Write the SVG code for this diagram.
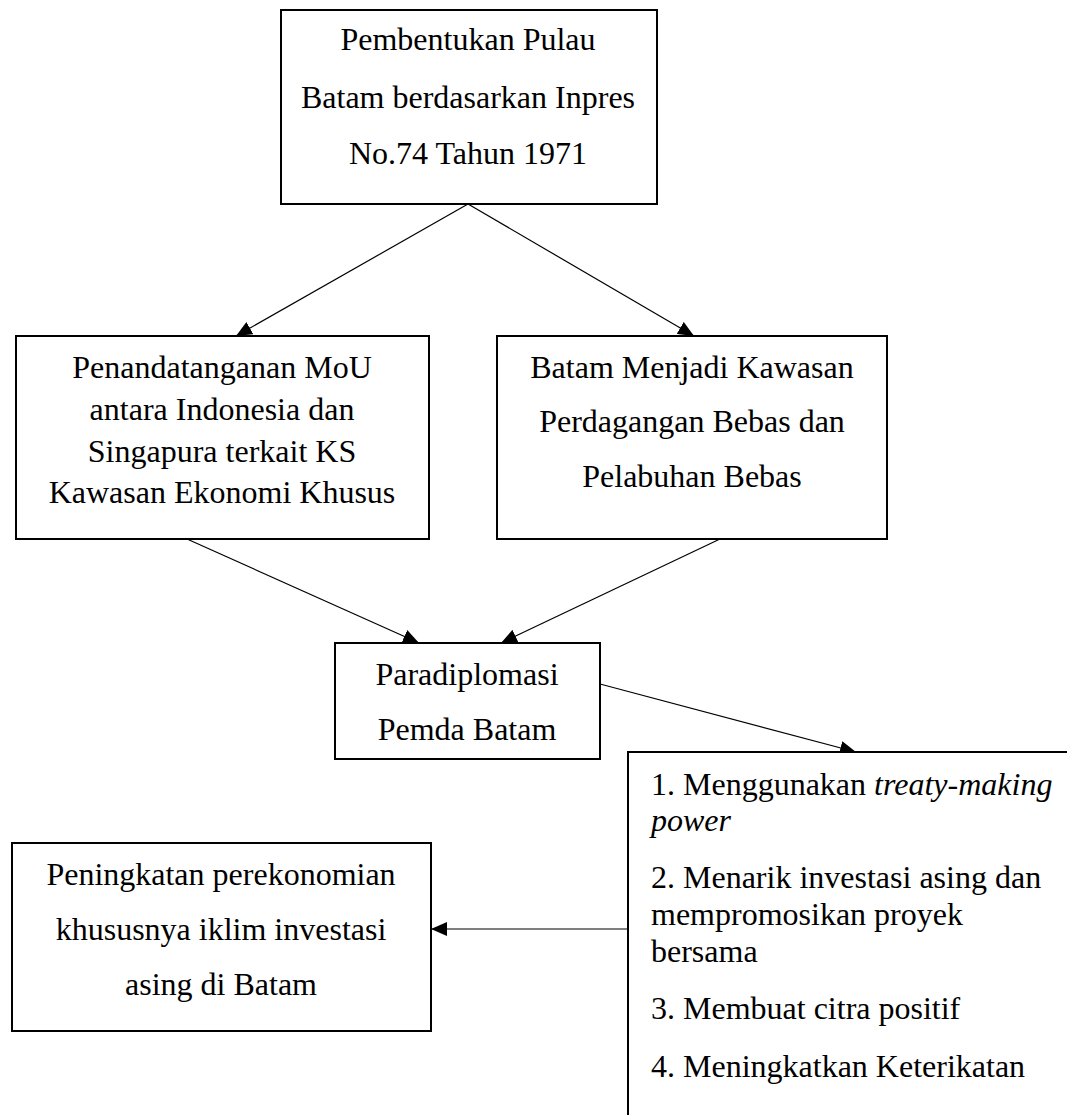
<svg xmlns="http://www.w3.org/2000/svg" width="1067" height="1115" viewBox="0 0 1067 1115">
<style>
.box{fill:#fff;stroke:#000;stroke-width:2}
.t{font-family:"Liberation Serif","Times New Roman",serif;font-size:32px;fill:#000}
.c{text-anchor:middle}
.con{stroke:#000;stroke-width:1.2;fill:none;marker-end:url(#ah)}
</style>
<defs>
<marker id="ah" viewBox="0 0 16 14" refX="16" refY="7" markerWidth="16" markerHeight="14" markerUnits="userSpaceOnUse" orient="auto">
<path d="M0,0 L16,7 L0,14 Z" fill="#000"/>
</marker>
</defs>
<rect width="1067" height="1115" fill="#fff"/>
<g id="connectors">
<line class="con" x1="468" y1="204" x2="236" y2="336"/>
<line class="con" x1="468" y1="204" x2="694" y2="336"/>
<line class="con" x1="187" y1="539" x2="419" y2="643"/>
<line class="con" x1="720" y1="539" x2="501" y2="643"/>
<line class="con" x1="600" y1="684" x2="856" y2="752"/>
<line class="con" x1="628" y1="929" x2="431" y2="929"/>
</g>
<g id="n1">
<rect class="box" x="281" y="10" width="376" height="194"/>
<text class="t c" x="468" y="50">Pembentukan Pulau</text>
<text class="t c" x="468" y="108">Batam berdasarkan Inpres</text>
<text class="t c" x="468" y="164">No.74 Tahun 1971</text>
</g>
<g id="n2">
<rect class="box" x="16" y="336" width="413" height="203"/>
<text class="t c" x="222" y="378">Penandatanganan MoU</text>
<text class="t c" x="222" y="420">antara Indonesia dan</text>
<text class="t c" x="222" y="462">Singapura terkait KS</text>
<text class="t c" x="222" y="503">Kawasan Ekonomi Khusus</text>
</g>
<g id="n3">
<rect class="box" x="497" y="336" width="390" height="203"/>
<text class="t c" x="692" y="378">Batam Menjadi Kawasan</text>
<text class="t c" x="692" y="432">Perdagangan Bebas dan</text>
<text class="t c" x="692" y="487">Pelabuhan Bebas</text>
</g>
<g id="n4">
<rect class="box" x="335" y="643" width="265" height="116"/>
<text class="t c" x="467" y="685">Paradiplomasi</text>
<text class="t c" x="467" y="740">Pemda Batam</text>
</g>
<g id="n5">
<path class="box" d="M1075,752 L628,752 L628,1125"/>
<text class="t" x="651" y="795">1. Menggunakan <tspan font-style="italic">treaty-making</tspan></text>
<text class="t" x="651" y="831" font-style="italic">power</text>
<text class="t" x="651" y="888">2. Menarik investasi asing dan</text>
<text class="t" x="651" y="925">mempromosikan proyek</text>
<text class="t" x="651" y="962">bersama</text>
<text class="t" x="651" y="1019">3. Membuat citra positif</text>
<text class="t" x="651" y="1077">4. Meningkatkan Keterikatan</text>
</g>
<g id="n6">
<rect class="box" x="12" y="843" width="419" height="188"/>
<text class="t c" x="221" y="885">Peningkatan perekonomian</text>
<text class="t c" x="221" y="940">khususnya iklim investasi</text>
<text class="t c" x="221" y="995">asing di Batam</text>
</g>
</svg>
